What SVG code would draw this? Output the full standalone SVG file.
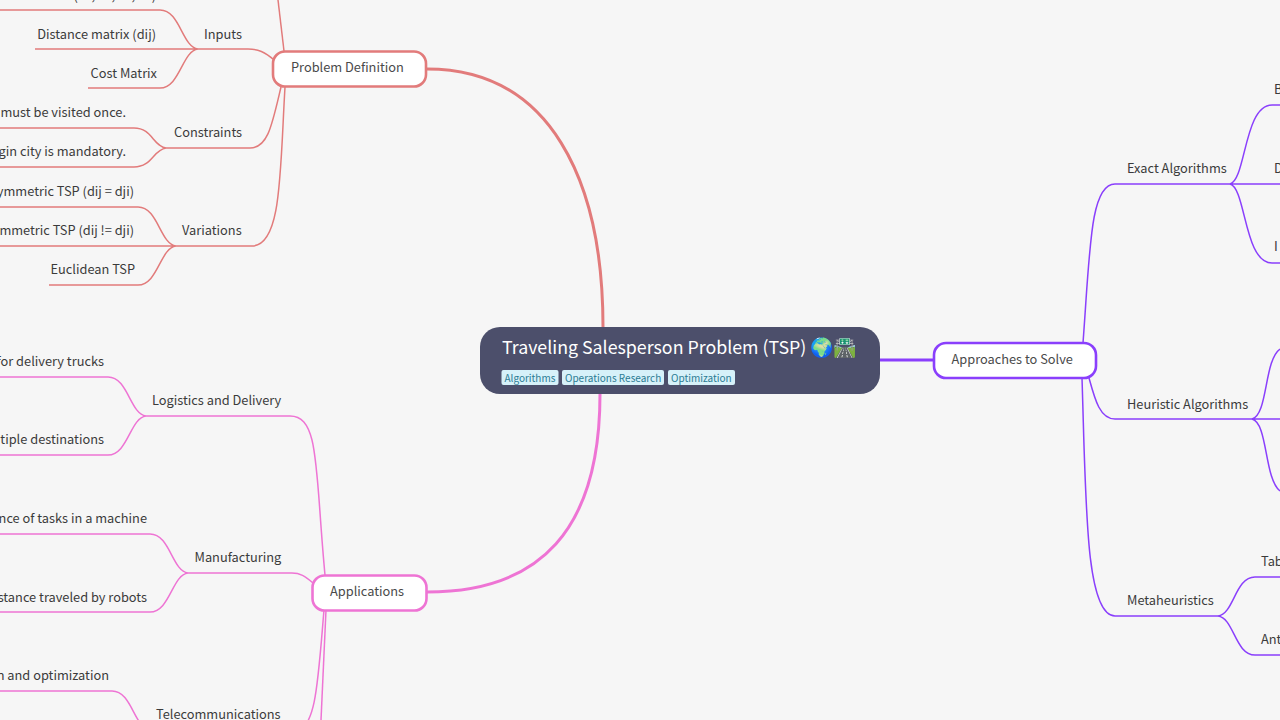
<svg xmlns="http://www.w3.org/2000/svg" width="1280" height="720" viewBox="0 0 1280 720">
<style>
text{font-family:"Noto Sans CJK SC","Noto Sans",sans-serif;font-size:12.8px;fill:#3b3b3b}
.e{text-anchor:end}
.c{fill:none;stroke-width:1.5}
.r{stroke:#e27b7b}.p{stroke:#ee74d4}.v{stroke:#8a3ffc}
.m{stroke-width:3}
.b{fill:#fff;stroke-width:2.6}
.n{fill:#4a4a4a}
.t{fill:#d6f1f9}
.tt{font-size:10px;fill:#2b7c94}
</style>
<rect width="1280" height="720" fill="#f6f6f6"/>
<g id="connectors">
<path class="c m r" d="M427 69C550 69 603 180 603 327"/>
<path class="c m p" d="M427 592C540 592 600 530 600 394"/>
<path class="c m v" d="M880 360H934"/>
<path class="c r" d="M284 51L278 0"/>
<path class="c r" d="M274 60C265 52 258 49 248 49H198"/>
<path class="c r" d="M198 49C182 47 180 10 160 10H0M198 49H35M198 49C182 51 180 88 160 88H88"/>
<path class="c r" d="M281 87C272 125 268 148 250 148H166"/>
<path class="c r" d="M166 148C153 146 152 128 134 128H0M166 148C153 150 152 167 134 167H0"/>
<path class="c r" d="M285 87C280 170 282 246 252 246H176"/>
<path class="c r" d="M176 246C160 244 158 207 138 207H0M176 246H0M176 246C160 248 158 285 138 285H49"/>
<path class="c p" d="M325 575C315 470 320 416 290 416H146"/>
<path class="c p" d="M146 416C130 414 128 377 108 377H0M146 416C130 418 128 455 108 455H0"/>
<path class="c p" d="M313 583C305 576 300 573 292 573H188"/>
<path class="c p" d="M188 573C172 571 170 534 150 534H0M188 573C172 575 170 612 150 612H0"/>
<path class="c p" d="M324 610C318 680 316 730 296 730H150"/>
<path class="c p" d="M150 730C134 728 132 691 112 691H0"/>
<path class="c p" d="M326 610L321 720"/>
<path class="c v" d="M1083 343C1090 250 1090 184 1115 184H1230"/>
<path class="c v" d="M1230 184C1246 180 1244 105 1272 105H1280M1230 184H1280M1230 184C1246 188 1244 263 1272 263H1280"/>
<path class="c v" d="M1089 378C1095 400 1100 419 1115 419H1252"/>
<path class="c v" d="M1252 419C1268 415 1264 360 1280 349M1252 419H1280M1252 419C1268 423 1264 478 1280 491"/>
<path class="c v" d="M1082 378C1086 500 1085 616 1115 616H1218"/>
<path class="c v" d="M1218 616C1234 614 1235 577 1255 577H1280M1218 616C1234 618 1235 655 1255 655H1280"/>
</g>
<g id="root">
<rect x="480" y="327" width="400" height="67" rx="20" fill="#4c4f6b"/>
<text x="502" y="354" style="font-size:17.8px;fill:#fff">Traveling Salesperson Problem (TSP) <tspan style="font-size:18.7px">🌍🛣️</tspan></text>
<rect class="t" x="501.500" y="370" width="57" height="15" rx="2"/><text class="tt" x="504.500" y="381.500">Algorithms</text>
<rect class="t" x="562" y="370" width="102" height="15" rx="2"/><text class="tt" x="565" y="381.500">Operations Research</text>
<rect class="t" x="668" y="370" width="67" height="15" rx="2"/><text class="tt" x="671" y="381.500">Optimization</text>
</g>
<g id="problem-definition"><rect class="b r" x="273" y="51.500" width="153" height="35" rx="12"/><text class="n" x="291" y="72">Problem Definition</text></g>
<g id="applications"><rect class="b p" x="312.500" y="575.500" width="114" height="35" rx="12"/><text class="n" x="330" y="596">Applications</text></g>
<g id="approaches"><rect class="b v" x="934" y="343" width="162" height="35" rx="12"/><text class="n" x="951.500" y="364">Approaches to Solve</text></g>
<g id="inputs"><text x="204" y="38.500">Inputs</text></g>
<g id="inputs-1"><text class="e" x="156" y="-0.500">(c1, c2, c3, c4)</text></g>
<g id="inputs-2"><text class="e" x="156" y="38.500">Distance matrix (dij)</text></g>
<g id="inputs-3"><text class="e" x="157" y="78">Cost Matrix</text></g>
<g id="constraints"><text x="174" y="137">Constraints</text></g>
<g id="constraints-1"><text class="e" x="126" y="117">must be visited once.</text></g>
<g id="constraints-2"><text class="e" x="126" y="156">gin city is mandatory.</text></g>
<g id="variations"><text x="182" y="235">Variations</text></g>
<g id="variations-1"><text class="e" x="134" y="196">ymmetric TSP (dij = dji)</text></g>
<g id="variations-2"><text class="e" x="134" y="235">mmetric TSP (dij != dji)</text></g>
<g id="variations-3"><text class="e" x="135" y="274">Euclidean TSP</text></g>
<g id="logistics"><text x="152" y="405">Logistics and Delivery</text></g>
<g id="logistics-1"><text class="e" x="104" y="366">for delivery trucks</text></g>
<g id="logistics-2"><text class="e" x="104" y="444">tiple destinations</text></g>
<g id="manufacturing"><text x="194.500" y="562">Manufacturing</text></g>
<g id="manufacturing-1"><text class="e" x="147" y="523">nce of tasks in a machine</text></g>
<g id="manufacturing-2"><text class="e" x="147" y="601.500">stance traveled by robots</text></g>
<g id="telecom"><text x="156" y="719">Telecommunications</text></g>
<g id="telecom-1"><text class="e" x="109" y="680">n and optimization</text></g>
<g id="exact"><text x="1127" y="173">Exact Algorithms</text></g>
<g id="exact-1"><text x="1274" y="94">B</text></g>
<g id="exact-2"><text x="1274" y="173">D</text></g>
<g id="exact-3"><text x="1274" y="251">I</text></g>
<g id="heuristic"><text x="1127" y="408.500">Heuristic Algorithms</text></g>
<g id="meta"><text x="1127" y="605">Metaheuristics</text></g>
<g id="meta-1"><text x="1261" y="566">Tab</text></g>
<g id="meta-2"><text x="1261" y="644">Ant</text></g>
</svg>
